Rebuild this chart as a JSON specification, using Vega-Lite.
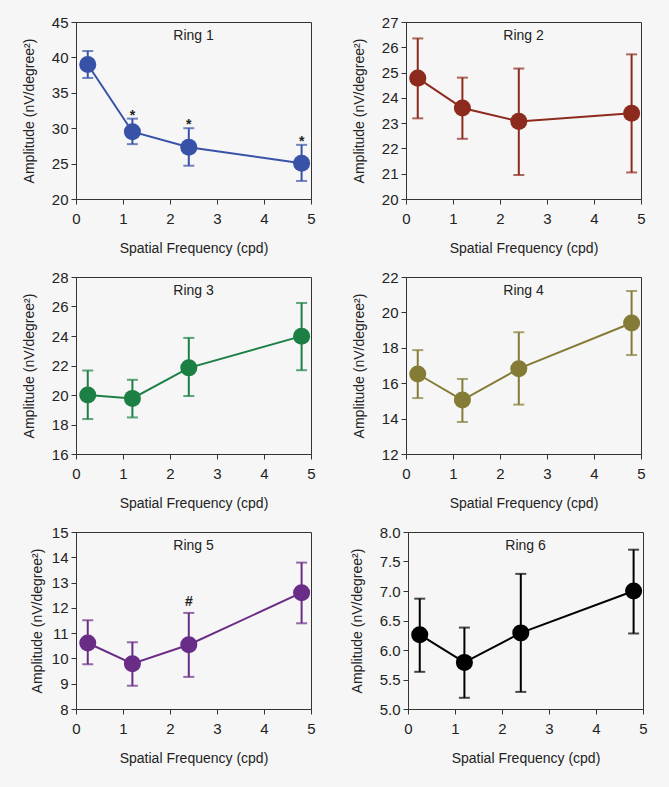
{
  "$schema": "https://vega.github.io/schema/vega-lite/v6.json",
  "background": "#f6f6f6",
  "padding": {"left": 21, "top": 14, "right": 40, "bottom": 40},
  "spacing": 13,
  "datasets": {
    "rings": [
      {"ring": 1, "sf": 0.25, "amp": 39.0, "lo": 37.1, "hi": 40.9, "note": ""},
      {"ring": 1, "sf": 1.2, "amp": 29.5, "lo": 27.75, "hi": 31.35, "note": "*"},
      {"ring": 1, "sf": 2.4, "amp": 27.3, "lo": 24.7, "hi": 30.0, "note": "*"},
      {"ring": 1, "sf": 4.8, "amp": 25.05, "lo": 22.55, "hi": 27.65, "note": "*"},
      {"ring": 2, "sf": 0.25, "amp": 24.78, "lo": 23.19, "hi": 26.35, "note": ""},
      {"ring": 2, "sf": 1.2, "amp": 23.6, "lo": 22.38, "hi": 24.8, "note": ""},
      {"ring": 2, "sf": 2.4, "amp": 23.07, "lo": 20.95, "hi": 25.16, "note": ""},
      {"ring": 2, "sf": 4.8, "amp": 23.39, "lo": 21.05, "hi": 25.72, "note": ""},
      {"ring": 3, "sf": 0.25, "amp": 20.0, "lo": 18.37, "hi": 21.66, "note": ""},
      {"ring": 3, "sf": 1.2, "amp": 19.77, "lo": 18.48, "hi": 21.03, "note": ""},
      {"ring": 3, "sf": 2.4, "amp": 21.84, "lo": 19.93, "hi": 23.87, "note": ""},
      {"ring": 3, "sf": 4.8, "amp": 23.99, "lo": 21.68, "hi": 26.24, "note": ""},
      {"ring": 4, "sf": 0.25, "amp": 16.52, "lo": 15.16, "hi": 17.87, "note": ""},
      {"ring": 4, "sf": 1.2, "amp": 15.05, "lo": 13.81, "hi": 16.24, "note": ""},
      {"ring": 4, "sf": 2.4, "amp": 16.82, "lo": 14.79, "hi": 18.88, "note": ""},
      {"ring": 4, "sf": 4.8, "amp": 19.4, "lo": 17.59, "hi": 21.21, "note": ""},
      {"ring": 5, "sf": 0.25, "amp": 10.61, "lo": 9.77, "hi": 11.51, "note": ""},
      {"ring": 5, "sf": 1.2, "amp": 9.79, "lo": 8.92, "hi": 10.64, "note": ""},
      {"ring": 5, "sf": 2.4, "amp": 10.54, "lo": 9.27, "hi": 11.8, "note": "#"},
      {"ring": 5, "sf": 4.8, "amp": 12.6, "lo": 11.39, "hi": 13.79, "note": ""},
      {"ring": 6, "sf": 0.25, "amp": 6.26, "lo": 5.63, "hi": 6.87, "note": ""},
      {"ring": 6, "sf": 1.2, "amp": 5.79, "lo": 5.19, "hi": 6.38, "note": ""},
      {"ring": 6, "sf": 2.4, "amp": 6.29, "lo": 5.29, "hi": 7.29, "note": ""},
      {"ring": 6, "sf": 4.8, "amp": 7.0, "lo": 6.28, "hi": 7.7, "note": ""}
    ]
  },
  "vconcat": [
    {
      "spacing": 35,
      "hconcat": [
        {
          "width": 235, "height": 177,
          "title": {"text": "Ring 1"},
          "data": {"name": "rings"},
          "transform": [{"filter": "datum.ring === 1"}],
          "encoding": {"x": {"field": "sf", "type": "quantitative", "title": "Spatial Frequency (cpd)", "scale": {"domain": [0, 5], "nice": false}, "axis": {"values": [0, 1, 2, 3, 4, 5]}}},
          "layer": [
            {"mark": {"type": "line", "color": "#3852a8", "strokeWidth": 2}, "encoding": {"y": {"field": "amp", "type": "quantitative", "title": "Amplitude (nV/degree²)", "scale": {"domain": [20, 45], "nice": false}, "axis": {"values": [20, 25, 30, 35, 40, 45]}}}},
            {"mark": {"type": "rule", "color": "#3852a8", "strokeWidth": 2}, "encoding": {"y": {"field": "lo", "type": "quantitative", "title": "Amplitude (nV/degree²)", "axis": {"values": [20, 25, 30, 35, 40, 45]}}, "y2": {"field": "hi"}}},
            {"mark": {"type": "tick", "orient": "horizontal", "color": "#3852a8", "size": 11, "thickness": 2}, "encoding": {"y": {"field": "lo", "type": "quantitative", "title": "Amplitude (nV/degree²)", "axis": {"values": [20, 25, 30, 35, 40, 45]}}}},
            {"mark": {"type": "tick", "orient": "horizontal", "color": "#3852a8", "size": 11, "thickness": 2}, "encoding": {"y": {"field": "hi", "type": "quantitative", "title": "Amplitude (nV/degree²)", "axis": {"values": [20, 25, 30, 35, 40, 45]}}}},
            {"mark": {"type": "point", "filled": true, "size": 290, "opacity": 1, "color": "#3852a8"}, "encoding": {"y": {"field": "amp", "type": "quantitative", "title": "Amplitude (nV/degree²)", "axis": {"values": [20, 25, 30, 35, 40, 45]}}}},
            {"transform": [{"filter": "datum.note !== ''"}], "mark": {"type": "text", "font": "Liberation Sans", "fontSize": 14, "fontWeight": "bold", "baseline": "alphabetic", "dy": 1, "color": "#222"}, "encoding": {"y": {"field": "hi", "type": "quantitative", "title": "Amplitude (nV/degree²)", "axis": {"values": [20, 25, 30, 35, 40, 45]}}, "text": {"field": "note"}}}
          ]
        },
        {
          "width": 235, "height": 177,
          "title": {"text": "Ring 2"},
          "data": {"name": "rings"},
          "transform": [{"filter": "datum.ring === 2"}],
          "encoding": {"x": {"field": "sf", "type": "quantitative", "title": "Spatial Frequency (cpd)", "scale": {"domain": [0, 5], "nice": false}, "axis": {"values": [0, 1, 2, 3, 4, 5]}}},
          "layer": [
            {"mark": {"type": "line", "color": "#8c2b1d", "strokeWidth": 2}, "encoding": {"y": {"field": "amp", "type": "quantitative", "title": "Amplitude (nV/degree²)", "scale": {"domain": [20, 27], "nice": false}, "axis": {"values": [20, 21, 22, 23, 24, 25, 26, 27]}}}},
            {"mark": {"type": "rule", "color": "#8c2b1d", "strokeWidth": 2}, "encoding": {"y": {"field": "lo", "type": "quantitative", "title": "Amplitude (nV/degree²)", "axis": {"values": [20, 21, 22, 23, 24, 25, 26, 27]}}, "y2": {"field": "hi"}}},
            {"mark": {"type": "tick", "orient": "horizontal", "color": "#8c2b1d", "size": 11, "thickness": 2}, "encoding": {"y": {"field": "lo", "type": "quantitative", "title": "Amplitude (nV/degree²)", "axis": {"values": [20, 21, 22, 23, 24, 25, 26, 27]}}}},
            {"mark": {"type": "tick", "orient": "horizontal", "color": "#8c2b1d", "size": 11, "thickness": 2}, "encoding": {"y": {"field": "hi", "type": "quantitative", "title": "Amplitude (nV/degree²)", "axis": {"values": [20, 21, 22, 23, 24, 25, 26, 27]}}}},
            {"mark": {"type": "point", "filled": true, "size": 290, "opacity": 1, "color": "#8c2b1d"}, "encoding": {"y": {"field": "amp", "type": "quantitative", "title": "Amplitude (nV/degree²)", "axis": {"values": [20, 21, 22, 23, 24, 25, 26, 27]}}}}
          ]
        }
      ]
    },
    {
      "spacing": 35,
      "hconcat": [
        {
          "width": 235, "height": 177,
          "title": {"text": "Ring 3"},
          "data": {"name": "rings"},
          "transform": [{"filter": "datum.ring === 3"}],
          "encoding": {"x": {"field": "sf", "type": "quantitative", "title": "Spatial Frequency (cpd)", "scale": {"domain": [0, 5], "nice": false}, "axis": {"values": [0, 1, 2, 3, 4, 5]}}},
          "layer": [
            {"mark": {"type": "line", "color": "#1c8045", "strokeWidth": 2}, "encoding": {"y": {"field": "amp", "type": "quantitative", "title": "Amplitude (nV/degree²)", "scale": {"domain": [16, 28], "nice": false}, "axis": {"values": [16, 18, 20, 22, 24, 26, 28]}}}},
            {"mark": {"type": "rule", "color": "#1c8045", "strokeWidth": 2}, "encoding": {"y": {"field": "lo", "type": "quantitative", "title": "Amplitude (nV/degree²)", "axis": {"values": [16, 18, 20, 22, 24, 26, 28]}}, "y2": {"field": "hi"}}},
            {"mark": {"type": "tick", "orient": "horizontal", "color": "#1c8045", "size": 11, "thickness": 2}, "encoding": {"y": {"field": "lo", "type": "quantitative", "title": "Amplitude (nV/degree²)", "axis": {"values": [16, 18, 20, 22, 24, 26, 28]}}}},
            {"mark": {"type": "tick", "orient": "horizontal", "color": "#1c8045", "size": 11, "thickness": 2}, "encoding": {"y": {"field": "hi", "type": "quantitative", "title": "Amplitude (nV/degree²)", "axis": {"values": [16, 18, 20, 22, 24, 26, 28]}}}},
            {"mark": {"type": "point", "filled": true, "size": 290, "opacity": 1, "color": "#1c8045"}, "encoding": {"y": {"field": "amp", "type": "quantitative", "title": "Amplitude (nV/degree²)", "axis": {"values": [16, 18, 20, 22, 24, 26, 28]}}}}
          ]
        },
        {
          "width": 235, "height": 177,
          "title": {"text": "Ring 4"},
          "data": {"name": "rings"},
          "transform": [{"filter": "datum.ring === 4"}],
          "encoding": {"x": {"field": "sf", "type": "quantitative", "title": "Spatial Frequency (cpd)", "scale": {"domain": [0, 5], "nice": false}, "axis": {"values": [0, 1, 2, 3, 4, 5]}}},
          "layer": [
            {"mark": {"type": "line", "color": "#847c36", "strokeWidth": 2}, "encoding": {"y": {"field": "amp", "type": "quantitative", "title": "Amplitude (nV/degree²)", "scale": {"domain": [12, 22], "nice": false}, "axis": {"values": [12, 14, 16, 18, 20, 22]}}}},
            {"mark": {"type": "rule", "color": "#847c36", "strokeWidth": 2}, "encoding": {"y": {"field": "lo", "type": "quantitative", "title": "Amplitude (nV/degree²)", "axis": {"values": [12, 14, 16, 18, 20, 22]}}, "y2": {"field": "hi"}}},
            {"mark": {"type": "tick", "orient": "horizontal", "color": "#847c36", "size": 11, "thickness": 2}, "encoding": {"y": {"field": "lo", "type": "quantitative", "title": "Amplitude (nV/degree²)", "axis": {"values": [12, 14, 16, 18, 20, 22]}}}},
            {"mark": {"type": "tick", "orient": "horizontal", "color": "#847c36", "size": 11, "thickness": 2}, "encoding": {"y": {"field": "hi", "type": "quantitative", "title": "Amplitude (nV/degree²)", "axis": {"values": [12, 14, 16, 18, 20, 22]}}}},
            {"mark": {"type": "point", "filled": true, "size": 290, "opacity": 1, "color": "#847c36"}, "encoding": {"y": {"field": "amp", "type": "quantitative", "title": "Amplitude (nV/degree²)", "axis": {"values": [12, 14, 16, 18, 20, 22]}}}}
          ]
        }
      ]
    },
    {
      "spacing": 33,
      "hconcat": [
        {
          "width": 235, "height": 177,
          "title": {"text": "Ring 5"},
          "data": {"name": "rings"},
          "transform": [{"filter": "datum.ring === 5"}],
          "encoding": {"x": {"field": "sf", "type": "quantitative", "title": "Spatial Frequency (cpd)", "scale": {"domain": [0, 5], "nice": false}, "axis": {"values": [0, 1, 2, 3, 4, 5]}}},
          "layer": [
            {"mark": {"type": "line", "color": "#6a2d87", "strokeWidth": 2}, "encoding": {"y": {"field": "amp", "type": "quantitative", "title": "Amplitude (nV/degree²)", "scale": {"domain": [8, 15], "nice": false}, "axis": {"values": [8, 9, 10, 11, 12, 13, 14, 15], "titleX": -32}}}},
            {"mark": {"type": "rule", "color": "#6a2d87", "strokeWidth": 2}, "encoding": {"y": {"field": "lo", "type": "quantitative", "title": "Amplitude (nV/degree²)", "axis": {"values": [8, 9, 10, 11, 12, 13, 14, 15], "titleX": -32}}, "y2": {"field": "hi"}}},
            {"mark": {"type": "tick", "orient": "horizontal", "color": "#6a2d87", "size": 11, "thickness": 2}, "encoding": {"y": {"field": "lo", "type": "quantitative", "title": "Amplitude (nV/degree²)", "axis": {"values": [8, 9, 10, 11, 12, 13, 14, 15], "titleX": -32}}}},
            {"mark": {"type": "tick", "orient": "horizontal", "color": "#6a2d87", "size": 11, "thickness": 2}, "encoding": {"y": {"field": "hi", "type": "quantitative", "title": "Amplitude (nV/degree²)", "axis": {"values": [8, 9, 10, 11, 12, 13, 14, 15], "titleX": -32}}}},
            {"mark": {"type": "point", "filled": true, "size": 290, "opacity": 1, "color": "#6a2d87"}, "encoding": {"y": {"field": "amp", "type": "quantitative", "title": "Amplitude (nV/degree²)", "axis": {"values": [8, 9, 10, 11, 12, 13, 14, 15], "titleX": -32}}}},
            {"transform": [{"filter": "datum.note !== ''"}], "mark": {"type": "text", "font": "Liberation Sans", "fontSize": 14, "fontWeight": "bold", "baseline": "alphabetic", "dy": -7, "color": "#222"}, "encoding": {"y": {"field": "hi", "type": "quantitative", "title": "Amplitude (nV/degree²)", "axis": {"values": [8, 9, 10, 11, 12, 13, 14, 15], "titleX": -32}}, "text": {"field": "note"}}}
          ]
        },
        {
          "width": 235, "height": 177,
          "title": {"text": "Ring 6"},
          "data": {"name": "rings"},
          "transform": [{"filter": "datum.ring === 6"}],
          "encoding": {"x": {"field": "sf", "type": "quantitative", "title": "Spatial Frequency (cpd)", "scale": {"domain": [0, 5], "nice": false}, "axis": {"values": [0, 1, 2, 3, 4, 5]}}},
          "layer": [
            {"mark": {"type": "line", "color": "#000000", "strokeWidth": 2}, "encoding": {"y": {"field": "amp", "type": "quantitative", "title": "Amplitude (nV/degree²)", "scale": {"domain": [5, 8], "nice": false}, "axis": {"values": [5, 5.5, 6, 6.5, 7, 7.5, 8], "format": ".1f"}}}},
            {"mark": {"type": "rule", "color": "#000000", "strokeWidth": 2}, "encoding": {"y": {"field": "lo", "type": "quantitative", "title": "Amplitude (nV/degree²)", "axis": {"values": [5, 5.5, 6, 6.5, 7, 7.5, 8], "format": ".1f"}}, "y2": {"field": "hi"}}},
            {"mark": {"type": "tick", "orient": "horizontal", "color": "#000000", "size": 11, "thickness": 2}, "encoding": {"y": {"field": "lo", "type": "quantitative", "title": "Amplitude (nV/degree²)", "axis": {"values": [5, 5.5, 6, 6.5, 7, 7.5, 8], "format": ".1f"}}}},
            {"mark": {"type": "tick", "orient": "horizontal", "color": "#000000", "size": 11, "thickness": 2}, "encoding": {"y": {"field": "hi", "type": "quantitative", "title": "Amplitude (nV/degree²)", "axis": {"values": [5, 5.5, 6, 6.5, 7, 7.5, 8], "format": ".1f"}}}},
            {"mark": {"type": "point", "filled": true, "size": 290, "opacity": 1, "color": "#000000"}, "encoding": {"y": {"field": "amp", "type": "quantitative", "title": "Amplitude (nV/degree²)", "axis": {"values": [5, 5.5, 6, 6.5, 7, 7.5, 8], "format": ".1f"}}}}
          ]
        }
      ]
    }
  ],
  "config": {
    "view": {"stroke": "#333333", "strokeWidth": 1},
    "axis": {
      "grid": false,
      "domainColor": "#333333",
      "tickColor": "#333333",
      "tickSize": 5,
      "labelFlush": false,
      "labelOverlap": false,
      "labelFont": "Liberation Sans",
      "labelFontSize": 15,
      "labelColor": "#222222",
      "titleFont": "Liberation Sans",
      "titleFontSize": 14,
      "titleFontWeight": "normal",
      "titleColor": "#222222"
    },
    "axisX": {"labelPadding": 7, "titlePadding": 15},
    "axisY": {"labelPadding": 3, "titlePadding": 15},
    "title": {"font": "Liberation Sans", "fontSize": 14, "fontWeight": "normal", "color": "#222222", "frame": "group", "anchor": "middle", "baseline": "bottom", "offset": -28}
  }
}
